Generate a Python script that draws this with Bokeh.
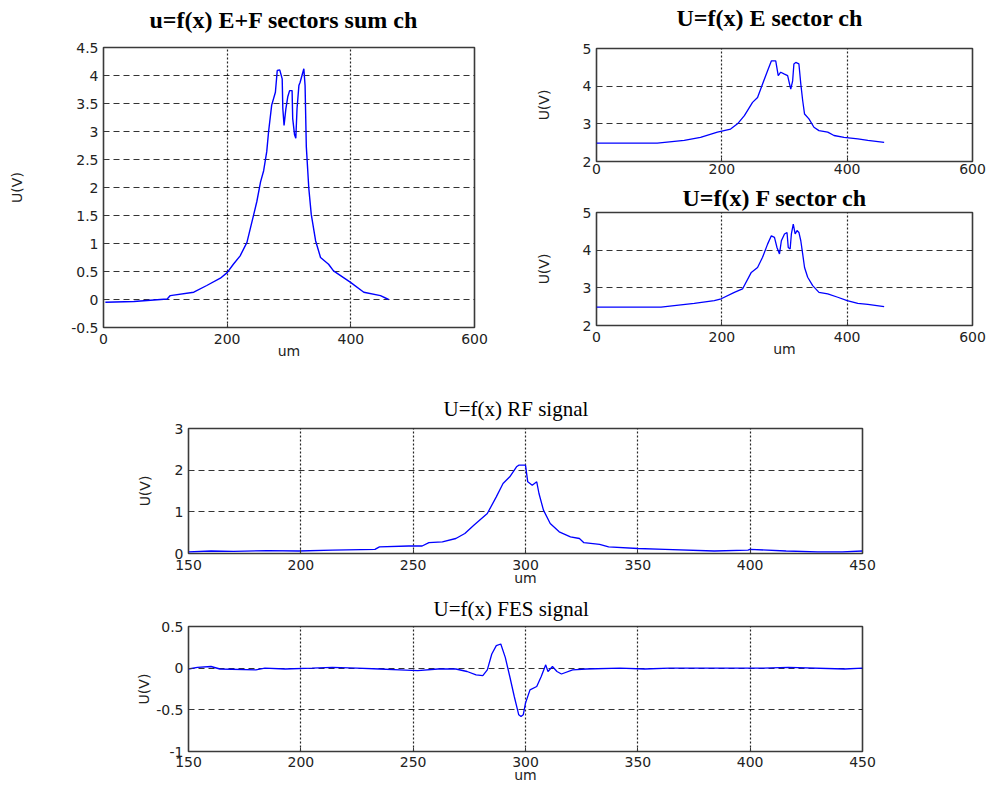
from bokeh.plotting import figure
from bokeh.layouts import column, row
from bokeh.models import FixedTicker, NumeralTickFormatter, Range1d, Title
from bokeh.embed import file_html
from bokeh.resources import INLINE

# ---------------- data ----------------
sum_x = [3, 49, 103, 108, 146, 167, 189, 200, 210, 221, 232, 243, 248, 254, 259, 264, 267, 272, 278, 281, 285,
         289, 290, 292, 295, 298, 301, 305, 306, 309, 311, 313, 316, 318, 321, 324, 326, 328, 332, 336, 343, 351,
         364, 372, 399, 421, 448, 461]
sum_y = [-0.05, -0.035, 0.01, 0.07, 0.13, 0.25, 0.38, 0.48, 0.63, 0.78, 1.02, 1.52, 1.75, 2.1, 2.3, 2.64, 3.0, 3.47,
         3.7, 4.09, 4.1, 3.94, 3.41, 3.11, 3.41, 3.62, 3.73, 3.73, 3.23, 2.94, 2.88, 3.41, 3.82, 3.88, 4.0, 4.12,
         3.82, 2.73, 1.99, 1.52, 1.05, 0.75, 0.63, 0.51, 0.31, 0.13, 0.07, 0.0]

e_x = [0, 97, 140, 166, 193, 214, 225, 236, 249, 257, 265, 273, 279, 286, 290, 294, 300, 305, 308, 310, 313, 315,
       318, 323, 326, 329, 332, 339, 347, 355, 369, 379, 395, 417, 433, 459]
e_y = [2.49, 2.49, 2.56, 2.64, 2.78, 2.86, 3.0, 3.22, 3.57, 3.70, 4.06, 4.41, 4.67, 4.67, 4.28, 4.37, 4.32, 4.28,
       4.06, 3.92, 4.14, 4.59, 4.63, 4.59, 4.06, 3.62, 3.26, 3.13, 2.91, 2.82, 2.78, 2.69, 2.64, 2.60, 2.56, 2.51]

f_x = [0, 103, 124, 156, 188, 199, 220, 233, 247, 257, 265, 273, 279, 284, 288, 292, 295, 300, 304, 306, 309, 311,
       314, 317, 320, 323, 326, 329, 332, 337, 345, 355, 369, 385, 400, 417, 433, 459]
f_y = [2.49, 2.49, 2.53, 2.59, 2.66, 2.71, 2.88, 2.97, 3.41, 3.54, 3.81, 4.16, 4.38, 4.34, 4.07, 3.90, 4.25, 4.43,
       4.47, 4.07, 4.03, 4.43, 4.69, 4.43, 4.52, 4.47, 4.25, 3.90, 3.54, 3.28, 3.06, 2.88, 2.84, 2.75, 2.66, 2.59,
       2.56, 2.50]

rf_x = [150, 160, 170, 185, 199, 214, 233, 235, 248, 254, 257, 263, 269, 273, 277, 283, 287, 290, 293, 296, 297,
        300, 301, 303, 305, 306, 308, 311, 315, 320, 324, 326, 333, 337, 350, 362, 384, 399, 400, 416, 430, 441, 450]
rf_y = [0.04, 0.06, 0.05, 0.07, 0.06, 0.08, 0.10, 0.16, 0.18, 0.18, 0.26, 0.28, 0.36, 0.48, 0.68, 0.96, 1.36, 1.68,
        1.84, 2.08, 2.12, 2.12, 1.72, 1.64, 1.72, 1.44, 1.04, 0.72, 0.52, 0.40, 0.36, 0.26, 0.22, 0.16, 0.12, 0.10,
        0.06, 0.08, 0.10, 0.06, 0.04, 0.04, 0.06]

fes_x = [150, 154, 160, 164, 180, 184, 193, 205, 214, 225, 235, 244, 252, 261, 269, 274, 278, 281, 283, 285, 287,
         289, 291, 293, 295, 297, 298, 299, 300, 302, 305, 307, 309, 310, 312, 314, 316, 321, 327, 342, 353, 364,
         406, 417, 442, 450]
fes_y = [-0.01, 0.01, 0.02, -0.01, -0.02, 0.0, -0.01, 0.0, 0.01, 0.0, -0.01, -0.02, -0.03, -0.01, -0.01, -0.04,
         -0.08, -0.09, -0.02, 0.17, 0.27, 0.29, 0.13, -0.10, -0.34, -0.56, -0.58, -0.56, -0.42, -0.26, -0.22, -0.10,
         0.04, -0.04, 0.02, -0.04, -0.07, -0.02, -0.01, 0.0, -0.01, 0.0, 0.0, 0.01, -0.01, 0.0]

x_ticks_wide = [0, 200, 400, 600]
sum_y_ticks = [-0.5, 0, 0.5, 1, 1.5, 2, 2.5, 3, 3.5, 4, 4.5]
sector_y_ticks = [2, 3, 4, 5]
x_ticks_long = [150, 200, 250, 300, 350, 400, 450]
rf_y_ticks = [0, 1, 2, 3]
fes_y_ticks = [-1, -0.5, 0, 0.5]

TICK_FONT = "DejaVu Sans"
SERIF = "Liberation Serif"


def make(width, height, bl, br, bt, bb, xr, yr, xt, yt, xlabel, ylabel_standoff,
         xlabel_standoff=0, xtick_standoff=6):
    p = figure(width=width, height=height, x_range=Range1d(*xr), y_range=Range1d(*yr),
               output_backend="svg", toolbar_location=None, title=None,
               min_border_left=bl, min_border_right=br, min_border_top=bt, min_border_bottom=bb)
    p.background_fill_color = "white"
    p.border_fill_color = "white"
    p.outline_line_color = "#3a3a3a"
    p.outline_line_width = 1.6
    for ax in (p.xaxis[0], p.yaxis[0]):
        ax.axis_line_color = None
        ax.major_tick_in = 4
        ax.major_tick_out = 0
        ax.major_tick_line_color = "#3a3a3a"
        ax.minor_tick_line_color = None
        ax.major_label_text_font = TICK_FONT
        ax.major_label_text_font_size = "14px"
        ax.major_label_text_color = "#222222"
        ax.axis_label_text_font = TICK_FONT
        ax.axis_label_text_font_size = "14px"
        ax.axis_label_text_font_style = "normal"
        ax.axis_label_text_color = "#222222"
        ax.formatter = NumeralTickFormatter(format="0.[0]")
    p.xaxis.ticker = FixedTicker(ticks=xt)
    p.yaxis.ticker = FixedTicker(ticks=yt)
    p.xaxis.major_label_standoff = xtick_standoff
    p.yaxis.major_label_standoff = 5
    p.yaxis.axis_label = "U(V)"
    p.yaxis.axis_label_standoff = ylabel_standoff
    if xlabel:
        p.xaxis.axis_label = "um"
        p.xaxis.axis_label_standoff = xlabel_standoff
    p.xgrid.ticker = FixedTicker(ticks=xt)
    p.ygrid.ticker = FixedTicker(ticks=yt)
    p.xgrid.grid_line_color = "black"
    p.xgrid.grid_line_dash = "2 2"
    p.xgrid.grid_line_width = 1.2
    p.xgrid.grid_line_alpha = 0.85
    p.ygrid.grid_line_color = "black"
    p.ygrid.grid_line_dash = "6 4"
    p.ygrid.grid_line_width = 1.2
    p.ygrid.grid_line_alpha = 0.8
    return p


def add_title(p, text, size, bold, standoff, offset, spacer=None):
    # optional empty spacer title between the frame and the real title
    if spacer is not None:
        p.add_layout(Title(text=" ", text_font_size="1px", standoff=spacer), "above")
    p.add_layout(Title(text=text, align="left", offset=offset, text_font=SERIF, text_font_size=size,
                       text_font_style="bold" if bold else "normal", text_color="black",
                       standoff=standoff), "above")


# top-left: sum of sectors
p1 = make(494, 365, 103, 20, 47, 38, (0, 600), (-0.5, 4.5), x_ticks_wide, sum_y_ticks, True, 43, -4)
p1.line(sum_x, sum_y, line_color="blue", line_width=1.4)
add_title(p1, "u=f(x) E+F sectors sum  ch", "24px", True, 3, 46, spacer=10)

# top-right: E sector
p2 = make(492, 178, 102, 14, 48, 17, (0, 600), (2, 5), x_ticks_wide, sector_y_ticks, False, 28,
          xtick_standoff=2)
p2.line(e_x, e_y, line_color="blue", line_width=1.3)
add_title(p2, "U=f(x) E sector ch", "24px", True, 0, 80, spacer=15)

# right-middle: F sector
p3 = make(492, 187, 102, 14, 34, 40, (0, 600), (2, 5), x_ticks_wide, sector_y_ticks, True, 28, -4)
p3.line(f_x, f_y, line_color="blue", line_width=1.3)
add_title(p3, "U=f(x) F sector ch", "24px", True, 3, 86)

# RF signal
p4 = make(880, 223, 188, 17, 63, 35, (150, 450), (0, 3), x_ticks_long, rf_y_ticks, True, 19, -3, 6)
p4.line(rf_x, rf_y, line_color="blue", line_width=1.3)
add_title(p4, "U=f(x) RF signal", "21px", False, 16, 255)

# FES signal
p5 = make(880, 197, 187, 18, 38, 33, (150, 450), (-1, 0.5), x_ticks_long, fes_y_ticks, True, 1, -3, 5)
p5.line(fes_x, fes_y, line_color="blue", line_width=1.3)
add_title(p5, "U=f(x) FES signal", "21px", False, 12, 245)

layout = column(row(p1, column(p2, p3)), p4, p5)

open("out.html", "w").write(file_html(layout, INLINE))
